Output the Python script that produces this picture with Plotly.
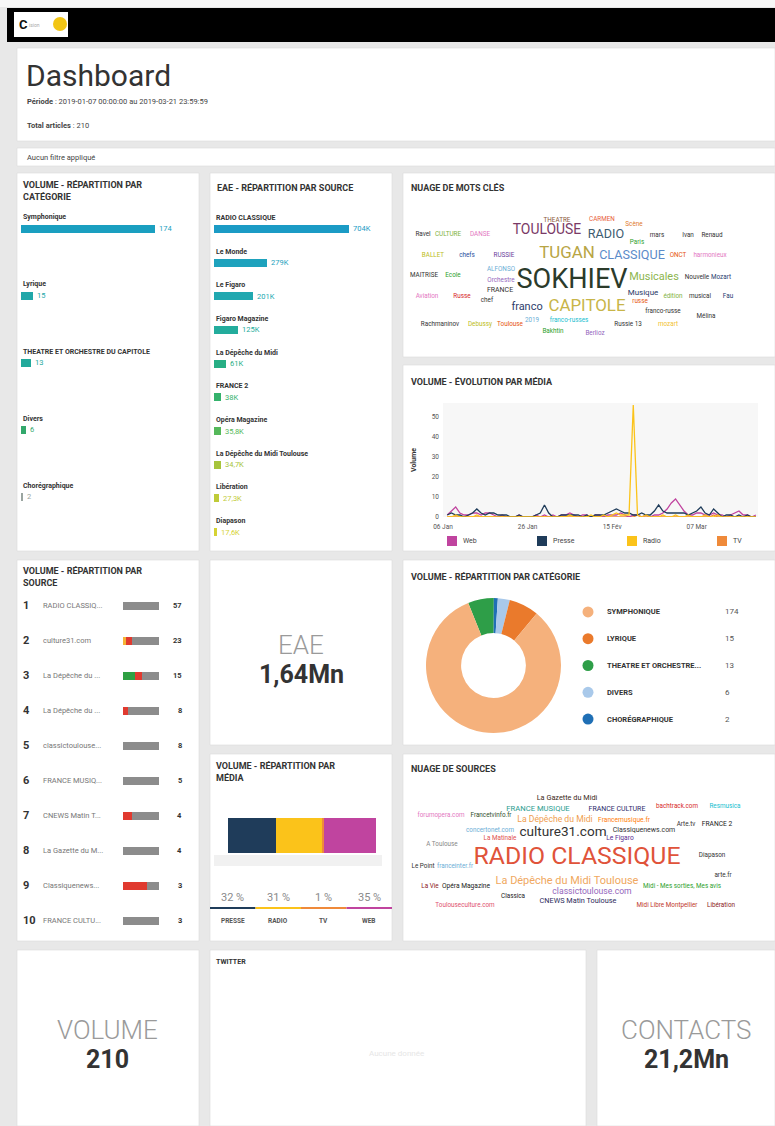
import plotly.graph_objects as go
import pandas as pd

W, H = 775, 1126
FONT = "Roboto"


def px(x):
    return x / W


def py(y):
    return 1 - y / H


# ------------------------------------------------------------------ DATA
periode_debut = "2019-01-07 00:00:00"
periode_fin = "2019-03-21 23:59:59"
total_articles = 210
eae_total = "1,64Mn"
contacts_total = "21,2Mn"
filtre_txt = "Aucun filtre appliqué"
twitter_txt = "Aucune donnée"

categories = ["Symphonique", "Lyrique", "THEATRE ET ORCHESTRE DU CAPITOLE", "Divers", "Chorégraphique"]
cat_volume = [174, 15, 13, 6, 2]

eae_sources = ["RADIO CLASSIQUE", "Le Monde", "Le Figaro", "Figaro Magazine", "La Dépêche du Midi",
               "FRANCE 2", "Opéra Magazine", "La Dépêche du Midi Toulouse", "Libération", "Diapason"]
eae_k = [704, 279, 201, 125, 61, 38, 35.8, 34.7, 27.3, 17.6]

kw_words = ["SOKHIEV", "TUGAN", "CAPITOLE", "TOULOUSE", "RADIO", "CLASSIQUE", "Musicales", "franco",
            "Musique", "FRANCE", "THEATRE", "CARMEN", "Scène", "Ravel", "CULTURE", "DANSE", "Paris",
            "mars", "Ivan", "Renaud", "BALLET", "chefs", "RUSSIE", "ONCT", "harmonieux", "MAITRISE",
            "Ecole", "ALFONSO", "Orchestre", "Nouvelle", "Mozart", "Aviation", "Russe", "chef", "russe",
            "édition", "musical", "Fau", "franco-russe", "Mélina", "2019", "franco-russes", "Russie 13",
            "mozart", "Rachmaninov", "Debussy", "Toulouse", "Bakhtin", "Berlioz"]
kw_weight = [64, 33, 33, 24, 20, 20, 15, 15, 6, 3, 1, 1, 1, 1, 1, 1, 1, 1, 1, 1, 1, 1, 1, 1, 1, 1,
             1, 1, 1, 1, 1, 1, 1, 1, 1, 1, 1, 1, 1, 1, 1, 1, 1, 1, 1, 1, 1, 1, 1]

src_rank_names = ["RADIO CLASSIQ...", "culture31.com", "La Dépêche du ...", "La Dépêche du ...",
                  "classictoulouse...", "FRANCE MUSIQ...", "CNEWS Matin T...", "La Gazette du M...",
                  "Classiquenews...", "FRANCE CULTU..."]
src_volume = [57, 23, 15, 8, 8, 5, 4, 4, 3, 3]
src_mitige = [0, 2, 0, 0, 0, 0, 0, 0, 0, 0]
src_positif = [0, 0, 5, 0, 0, 0, 0, 0, 0, 0]
src_negatif = [0, 4, 3, 1, 0, 0, 1, 0, 2, 0]
src_neutre = [57, 17, 7, 7, 8, 5, 3, 4, 1, 3]

medias = ["PRESSE", "RADIO", "TV", "WEB"]
media_pct = [32, 31, 1, 35]

dates = pd.date_range("2019-01-07", "2019-03-21", freq="D")
web = [1, 3, 5, 2, 1, 1, 2, 2, 1, 2, 2, 1, 0, 1, 0, 0, 0, 1, 0, 0, 0, 1, 0, 1, 0, 1, 0, 1, 1, 2,
       1, 0, 1, 1, 0, 1, 1, 0, 1, 1, 1, 2, 1, 0, 1, 1, 0, 1, 0, 1, 1, 2, 4, 7, 9, 6, 3, 1, 1, 2,
       2, 1, 1, 2, 1, 1, 0, 1, 2, 3, 1, 1, 0, 1]
presse = [1, 2, 1, 1, 0, 1, 2, 4, 2, 1, 2, 2, 1, 1, 1, 0, 0, 1, 0, 0, 0, 1, 2, 6, 2, 0, 0, 1, 1, 1,
          1, 1, 0, 1, 0, 1, 1, 1, 2, 3, 4, 3, 2, 2, 1, 1, 2, 1, 1, 3, 6, 3, 2, 2, 2, 2, 2, 1, 2, 3,
          5, 2, 1, 4, 2, 0, 1, 1, 0, 1, 0, 1, 0, 0]
radio = [0, 0, 1, 0, 0, 0, 0, 1, 0, 0, 0, 0, 0, 0, 0, 0, 0, 0, 0, 0, 0, 0, 0, 0, 0, 0, 0, 0, 0, 1,
         0, 0, 0, 0, 1, 0, 0, 1, 0, 1, 2, 1, 1, 1, 56, 1, 0, 1, 0, 0, 0, 1, 0, 0, 1, 0, 0, 1, 0, 0,
         0, 1, 0, 0, 1, 0, 0, 0, 0, 0, 0, 0, 0, 0]
tv = [0, 0, 0, 0, 0, 0, 0, 0, 0, 0, 0, 0, 0, 0, 0, 0, 0, 0, 0, 0, 0, 0, 0, 0, 0, 0, 0, 0, 0, 0,
      0, 0, 0, 0, 0, 0, 0, 0, 0, 0, 0, 0, 0, 0, 0, 1, 0, 0, 0, 0, 0, 0, 0, 0, 0, 0, 0, 0, 0, 0,
      0, 0, 0, 1, 0, 0, 0, 0, 0, 0, 0, 0, 0, 0]
line_ticks = ["2019-01-06", "2019-01-26", "2019-02-15", "2019-03-07"]
line_ticktext = ["06 Jan", "26 Jan", "15 Fév", "07 Mar"]

src_cloud_words = ["RADIO CLASSIQUE", "culture31.com", "La Dépêche du Midi Toulouse", "La Dépêche du Midi",
                   "classictoulouse.com", "FRANCE MUSIQUE", "CNEWS Matin Toulouse", "La Gazette du Midi",
                   "Classiquenews.com", "FRANCE CULTURE", "bachtrack.com", "Resmusica", "forumopera.com",
                   "Francetvinfo.fr", "Francemusique.fr", "Arte.tv", "FRANCE 2", "concertonet.com",
                   "La Matinale", "Le Figaro", "A Toulouse", "Diapason", "Le Point", "franceinter.fr",
                   "arte.fr", "La Vie", "Opéra Magazine", "Midi - Mes sorties, Mes avis", "Classica",
                   "Toulouseculture.com", "Midi Libre Montpellier", "Libération"]
src_cloud_weight = [57, 23, 15, 8, 8, 5, 4, 4, 3, 3, 1, 1, 1, 1, 2, 1, 2, 1, 1, 2, 1, 1, 1, 1,
                    1, 1, 2, 1, 1, 1, 1, 1]

# ------------------------------------------------------------------ STYLE / LAYOUT
cat_colors = ["#1a9fc0", "#21a7a9", "#22a99b", "#33a86c", "#9aa5a0"]
eae_colors = ["#1b9bc5", "#1ea2bd", "#21a8b0", "#23ac9c", "#27ae84", "#35b26c", "#55b85a",
              "#a6c43c", "#bfcb38", "#d5d233"]
kw_colors = ["#2b3b2b", "#b8a544", "#c8b548", "#7a3a66", "#3d5b70", "#5b8bc9", "#8cb54e", "#2d3d6b",
             "#2b3a67", "#333333", "#8b5a3c", "#e8603c", "#e07b2a", "#333333", "#7fb241", "#e377c2",
             "#2ca02c", "#333333", "#333333", "#333333", "#bcbd22", "#1f4e9c", "#6a3d9a", "#e6550d",
             "#e377c2", "#333333", "#2ca02c", "#6baed6", "#9467bd", "#333333", "#1f3b6e", "#e377c2",
             "#d62728", "#333333", "#e6550d", "#7fb241", "#333333", "#1f3b6e", "#333333", "#333333",
             "#6baed6", "#17becf", "#333333", "#f2c12e", "#333333", "#bcbd22", "#e6550d", "#2ca02c",
             "#9467bd"]
kw_pos = [(572, 281), (567, 254), (587, 307), (547, 231), (606, 235), (632, 256), (654, 277), (527, 307),
          (643, 293), (500, 290), (557, 220), (602, 219), (634, 224), (423, 234), (448, 234), (480, 234),
          (637, 242), (657, 235), (688, 235), (712, 235), (433, 255), (467, 255), (504, 255), (678, 255),
          (710, 255), (424, 275), (453, 275), (501, 269), (501, 280), (697, 277), (721, 277), (427, 296),
          (462, 296), (487, 300), (640, 301), (673, 296), (700, 296), (728, 296), (663, 311), (706, 316),
          (532, 320), (569, 320), (628, 324), (668, 324), (440, 324), (480, 324), (510, 324), (553, 331),
          (595, 333)]
src_cloud_colors = ["#e0533a", "#333333", "#f0a860", "#f0a050", "#9467bd", "#2a9d8f", "#2d2a5b", "#3b2a1a",
                    "#333333", "#2d2a6b", "#d62728", "#17becf", "#e377c2", "#2f4f2f", "#ff7f0e", "#333333",
                    "#222222", "#6baed6", "#e05050", "#5a2d91", "#888888", "#333333", "#333333", "#6baed6",
                    "#333333", "#8b1a1a", "#222222", "#2ca02c", "#222222", "#e05070", "#c0392b", "#8b1a1a"]
src_cloud_pos = [(577, 858), (563, 833), (567, 881), (555, 820), (592, 892), (538, 809), (578, 901),
                 (567, 798), (644, 830), (617, 809), (677, 806), (725, 806), (441, 815), (491, 815),
                 (624, 820), (686, 824), (717, 824), (490, 830), (500, 838), (620, 838), (442, 844),
                 (712, 855), (423, 866), (455, 866), (723, 875), (430, 886), (466, 886), (682, 886),
                 (513, 896), (465, 905), (667, 905), (721, 905)]
sent_colors = {"Mitigé": "#f5b335", "Positif": "#2ea043", "Négatif": "#e03a2f", "Neutre": "#8c8c8c"}
media_colors = ["#1f3c5a", "#fbc31a", "#ef8a3a", "#c0449f"]
pie_colors = ["#f5b17c", "#ea7a2c", "#2e9e48", "#a9c9ea", "#1f6fb5"]
pie_order = [2, 4, 3, 1, 0]   # drawing order around the ring (clockwise)

panels = [(17, 48, 775, 141), (17, 148, 775, 166), (17, 173, 199, 551), (210, 173, 392, 551),
          (403, 173, 775, 357), (403, 365, 775, 551), (17, 560, 199, 941), (210, 560, 392, 745),
          (210, 754, 392, 941), (403, 560, 775, 745), (403, 754, 775, 941), (17, 950, 199, 1126),
          (210, 950, 586, 1126), (597, 950, 775, 1126)]


def cloud_size(w):
    return 6 + 0.33 * w


def fmt_k(v):
    return f"{v:g}".replace(".", ",") + "K"


def ann(x, y, text, size, color="#333", xanchor="left", yanchor="middle", weight=None):
    f = dict(size=size, color=color, family=FONT)
    if weight is not None:
        f["weight"] = weight
    return dict(x=px(x), y=py(y), xref="paper", yref="paper", text=text, showarrow=False,
                xanchor=xanchor, yanchor=yanchor, align="left", font=f)


def rect(x0, y0, x1, y1, fill, line=None, lw=0):
    return dict(type="rect", xref="paper", yref="paper", x0=px(x0), x1=px(x1), y0=py(y0), y1=py(y1),
                fillcolor=fill, line=dict(color=line or fill, width=lw), layer="below")


fig = go.Figure()
shapes = []
annotations = []

# page chrome
shapes.append(rect(0, 0, 775, 7, "#f7f7f7"))
shapes.append(rect(7, 8, 775, 42, "#000000"))
shapes.append(rect(14, 12, 68, 37, "#ffffff"))
shapes.append(dict(type="circle", xref="paper", yref="paper", x0=px(53), x1=px(67), y0=py(31), y1=py(17),
                   fillcolor="#f2c514", line=dict(width=0)))
annotations.append(ann(17, 24.5, "<b>C</b>", 13, "#111"))
annotations.append(ann(27, 24.5, "ision", 5, "#aaaaaa"))
for (x0, y0, x1, y1) in panels:
    shapes.append(rect(x0, y0, x1, y1, "#ffffff", "#dadada", 0.6))

# header
annotations.append(ann(24, 75, "Dashboard", 30, "#333"))
annotations.append(ann(25, 102, f"<b>Période</b> : {periode_debut} au {periode_fin}", 7.5, "#444"))
annotations.append(ann(25, 125, f"<b>Total articles</b> : {total_articles}", 7.5, "#444"))
annotations.append(ann(25, 157, filtre_txt, 7.5, "#444"))

# panel titles
TS = 9
annotations.append(ann(21, 177, "<b>VOLUME - RÉPARTITION PAR<br>CATÉGORIE</b>", TS, "#333", yanchor="top"))
annotations.append(ann(215, 187, "<b>EAE - RÉPARTITION PAR SOURCE</b>", TS, "#333"))
annotations.append(ann(409, 187, "<b>NUAGE DE MOTS CLÉS</b>", TS, "#333"))
annotations.append(ann(409, 381, "<b>VOLUME - ÉVOLUTION PAR MÉDIA</b>", TS, "#333"))
annotations.append(ann(21, 563, "<b>VOLUME - RÉPARTITION PAR<br>SOURCE</b>", TS, "#333", yanchor="top"))
annotations.append(ann(214, 758, "<b>VOLUME - RÉPARTITION PAR<br>MÉDIA</b>", TS, "#333", yanchor="top"))
annotations.append(ann(409, 576, "<b>VOLUME - RÉPARTITION PAR CATÉGORIE</b>", TS, "#333"))
annotations.append(ann(409, 769, "<b>NUAGE DE SOURCES</b>", TS, "#333"))
annotations.append(ann(214, 962, "<b>TWITTER</b>", 7, "#333"))

# ---- panel A : volume by category
ncat = len(categories)
fig.add_trace(go.Bar(x=cat_volume, y=list(range(ncat)), orientation="h", width=0.12,
                     marker=dict(color=cat_colors, line=dict(width=0)), xaxis="x", yaxis="y",
                     hoverinfo="skip", showlegend=False))
for i, (c, v) in enumerate(zip(categories, cat_volume)):
    annotations.append(dict(x=0, y=i, xref="x", yref="y", text=f"<b>{c}</b>", showarrow=False,
                            xanchor="left", yanchor="middle", yshift=11,
                            font=dict(size=7, color="#333", family=FONT)))
    annotations.append(dict(x=v, y=i, xref="x", yref="y", text=str(v), showarrow=False,
                            xanchor="left", yanchor="middle", xshift=2,
                            font=dict(size=7.5, color=cat_colors[i], family=FONT)))

# ---- panel B : EAE by source
neae = len(eae_sources)
fig.add_trace(go.Bar(x=eae_k, y=list(range(neae)), orientation="h", width=0.24,
                     marker=dict(color=eae_colors, line=dict(width=0)), xaxis="x2", yaxis="y2",
                     hoverinfo="skip", showlegend=False))
for i, (s, v) in enumerate(zip(eae_sources, eae_k)):
    annotations.append(dict(x=0, y=i, xref="x2", yref="y2", text=f"<b>{s}</b>", showarrow=False,
                            xanchor="left", yanchor="middle", yshift=11,
                            font=dict(size=7, color="#333", family=FONT)))
    annotations.append(dict(x=v, y=i, xref="x2", yref="y2", text=fmt_k(v), showarrow=False,
                            xanchor="left", yanchor="middle", xshift=2,
                            font=dict(size=7.5, color=eae_colors[i], family=FONT)))

# ---- panel C : keyword cloud
fig.add_trace(go.Scatter(x=[p[0] for p in kw_pos], y=[p[1] for p in kw_pos], mode="text",
                         text=kw_words, textposition="middle center",
                         textfont=dict(size=[cloud_size(w) for w in kw_weight], color=kw_colors, family=FONT),
                         xaxis="x3", yaxis="y3", hoverinfo="skip", showlegend=False, cliponaxis=False))

# ---- panel D : line chart
line_series = [("Web", web, media_colors[3]), ("Presse", presse, media_colors[0]),
               ("Radio", radio, media_colors[1]), ("TV", tv, media_colors[2])]
for name, vals, col in [line_series[3], line_series[0], line_series[1], line_series[2]]:
    fig.add_trace(go.Scatter(x=dates, y=vals, mode="lines", line=dict(color=col, width=1.3),
                             xaxis="x4", yaxis="y4", hoverinfo="skip", showlegend=False, name=name))
shapes.append(dict(type="rect", xref="x4 domain", yref="y4 domain", x0=0, x1=1, y0=0, y1=1,
                   fillcolor="#f7f7f7", line=dict(width=0), layer="below"))
# legend (drawn as its own small axis)
leg_x0, leg_step = 452, 90
leg_x = [leg_x0 + k * leg_step for k in range(len(line_series))]
fig.add_trace(go.Scatter(x=leg_x, y=[0] * len(leg_x), mode="markers",
                         marker=dict(symbol="square", size=10, color=[s[2] for s in line_series]),
                         xaxis="x9", yaxis="y9", hoverinfo="skip", showlegend=False))
for xk, s in zip(leg_x, line_series):
    annotations.append(dict(x=xk + 9, y=0, xref="x9", yref="y9", text=s[0], showarrow=False,
                            xanchor="left", yanchor="middle", font=dict(size=7, color="#444", family=FONT)))

# ---- panel E : ranking table
nsrc = len(src_rank_names)
for label, vals in [("Mitigé", src_mitige), ("Positif", src_positif), ("Négatif", src_negatif),
                    ("Neutre", src_neutre)]:
    pct = [100.0 * v / t for v, t in zip(vals, src_volume)]
    fig.add_trace(go.Bar(x=pct, y=list(range(nsrc)), orientation="h", width=0.23, name=label,
                         marker=dict(color=sent_colors[label], line=dict(width=0)),
                         xaxis="x5", yaxis="y5", hoverinfo="skip", showlegend=False))
for i, (n, v) in enumerate(zip(src_rank_names, src_volume)):
    annotations.append(dict(x=px(21), y=i, xref="paper", yref="y5", text=f"<b>{i + 1}</b>", showarrow=False,
                            xanchor="left", yanchor="middle", font=dict(size=11, color="#333", family=FONT)))
    annotations.append(dict(x=px(41), y=i, xref="paper", yref="y5", text=n, showarrow=False,
                            xanchor="left", yanchor="middle", font=dict(size=7.5, color="#777", family=FONT)))
    annotations.append(dict(x=px(184), y=i, xref="paper", yref="y5", text=f"<b>{v}</b>", showarrow=False,
                            xanchor="right", yanchor="middle", font=dict(size=7.5, color="#333", family=FONT)))

# ---- panel F : EAE KPI
annotations.append(ann(301, 645, "EAE", 26, "#9a9a9a", xanchor="center", weight=300))
annotations.append(ann(301, 674, f"<b>{eae_total}</b>", 25, "#333", xanchor="center"))

# ---- panel G : volume by media
for m, p, col in zip(medias, media_pct, media_colors):
    fig.add_trace(go.Bar(x=[p], y=[0], orientation="h", width=1.0, name=m,
                         marker=dict(color=col, line=dict(width=0)),
                         xaxis="x6", yaxis="y6", hoverinfo="skip", showlegend=False))
shapes.append(rect(214, 855, 382, 866, "#f1f1f1"))
q = (392 - 210) / 4.0
for k, (m, p, col) in enumerate(zip(medias, media_pct, media_colors)):
    cx = 210 + q * (k + 0.5)
    annotations.append(ann(cx, 897, f"{p} %", 11, "#8a8a8a", xanchor="center"))
    annotations.append(ann(cx, 921, f"<b>{m}</b>", 6.5, "#555", xanchor="center"))
    shapes.append(dict(type="line", xref="paper", yref="paper", x0=px(210 + q * k), x1=px(210 + q * (k + 1)),
                       y0=py(908), y1=py(908), line=dict(color=col, width=2)))

# ---- panel H : donut
fig.add_trace(go.Pie(labels=[categories[i] for i in pie_order], values=[cat_volume[i] for i in pie_order],
                     marker=dict(colors=[pie_colors[i] for i in pie_order], line=dict(width=0)),
                     hole=0.48, sort=False, direction="clockwise", rotation=-22, textinfo="none",
                     hoverinfo="skip", showlegend=False,
                     domain=dict(x=[px(425), px(562)], y=[py(733), py(598)])))
fig.add_trace(go.Scatter(x=[8] * ncat, y=list(range(ncat)), mode="markers",
                         marker=dict(size=11, color=pie_colors, line=dict(width=0)),
                         xaxis="x7", yaxis="y7", hoverinfo="skip", showlegend=False))


def legend_label(c, n=20):
    u = c.upper()
    return u if len(u) <= n + 3 else u[:n] + "..."


for i, (c, v) in enumerate(zip(categories, cat_volume)):
    annotations.append(dict(x=25, y=i, xref="x7", yref="y7", text=f"<b>{legend_label(c)}</b>", showarrow=False,
                            xanchor="left", yanchor="middle", font=dict(size=7.5, color="#333", family=FONT)))
    annotations.append(dict(x=143, y=i, xref="x7", yref="y7", text=str(v), showarrow=False,
                            xanchor="left", yanchor="middle", font=dict(size=8, color="#555", family=FONT)))

# ---- panel I : source cloud
fig.add_trace(go.Scatter(x=[p[0] for p in src_cloud_pos], y=[p[1] for p in src_cloud_pos], mode="text",
                         text=src_cloud_words, textposition="middle center",
                         textfont=dict(size=[cloud_size(w) for w in src_cloud_weight], color=src_cloud_colors,
                                       family=FONT),
                         xaxis="x8", yaxis="y8", hoverinfo="skip", showlegend=False, cliponaxis=False))

# ---- bottom KPIs
annotations.append(ann(108, 1030, "VOLUME", 26, "#9a9a9a", xanchor="center", weight=300))
annotations.append(ann(108, 1059, f"<b>{total_articles}</b>", 25, "#333", xanchor="center"))
annotations.append(ann(686, 1030, "CONTACTS", 26, "#9a9a9a", xanchor="center", weight=300))
annotations.append(ann(686, 1059, f"<b>{contacts_total}</b>", 25, "#333", xanchor="center"))
annotations.append(ann(397, 1053, twitter_txt, 8, "#e6e6e6", xanchor="center"))


def hid(domain, rng, anchor):
    return dict(domain=domain, range=rng, visible=False, fixedrange=True, anchor=anchor, automargin=False)


fig.update_layout(
    width=W, height=H, margin=dict(l=0, r=0, t=0, b=0, pad=0, autoexpand=False),
    paper_bgcolor="#e8e8e8", plot_bgcolor="rgba(0,0,0,0)",
    font=dict(family=FONT, color="#333"),
    barmode="stack", bargap=0, showlegend=False,
    shapes=shapes, annotations=annotations,
    xaxis=hid([px(21), px(190)], [0, 220], "y"),
    yaxis=hid([py(530.5), py(194.5)], [ncat - 0.5, -0.5], "x"),
    xaxis2=hid([px(214), px(390)], [0, 918], "y2"),
    yaxis2=hid([py(549), py(212)], [neae - 0.5, -0.5], "x2"),
    xaxis3=hid([px(403), px(775)], [403, 775], "y3"),
    yaxis3=hid([py(357), py(173)], [357, 173], "x3"),
    xaxis4=dict(domain=[px(443), px(758)], anchor="y4", type="date", automargin=False,
                range=["2019-01-06", "2019-03-21 12:00"], tickvals=line_ticks, ticktext=line_ticktext,
                showgrid=False, zeroline=False, showline=False, ticks="", fixedrange=True,
                ticklabelstandoff=4,
                tickfont=dict(size=6.5, color="#555", family=FONT)),
    yaxis4=dict(domain=[py(517), py(403)], anchor="x4", range=[0, 57], tickvals=[0, 10, 20, 30, 40, 50],
                automargin=False, ticklabelstandoff=3,
                showgrid=False, zeroline=False, showline=False, ticks="", fixedrange=True,
                tickfont=dict(size=6.5, color="#555", family=FONT),
                title=dict(text="<b>Volume</b>", font=dict(size=7, color="#333", family=FONT), standoff=14)),
    xaxis5=hid([px(123), px(159)], [0, 100], "y5"),
    yaxis5=hid([py(938.5), py(587.5)], [nsrc - 0.5, -0.5], "x5"),
    xaxis6=hid([px(228), px(376)], [0, sum(media_pct)], "y6"),
    yaxis6=hid([py(853), py(818)], [-0.5, 0.5], "x6"),
    xaxis7=hid([px(580), px(770)], [0, 190], "y7"),
    yaxis7=hid([py(732.5), py(598.5)], [ncat - 0.5, -0.5], "x7"),
    xaxis8=hid([px(403), px(775)], [403, 775], "y8"),
    yaxis8=hid([py(941), py(754)], [941, 754], "x8"),
    xaxis9=hid([px(403), px(775)], [403, 775], "y9"),
    yaxis9=hid([py(549), py(533)], [-1, 1], "x9"),
)

fig.write_html("out.html", config={"displayModeBar": False, "staticPlot": False},
               post_script="document.body.style.margin='0';document.body.style.padding='0';"
                           "document.body.style.overflow='hidden';")
